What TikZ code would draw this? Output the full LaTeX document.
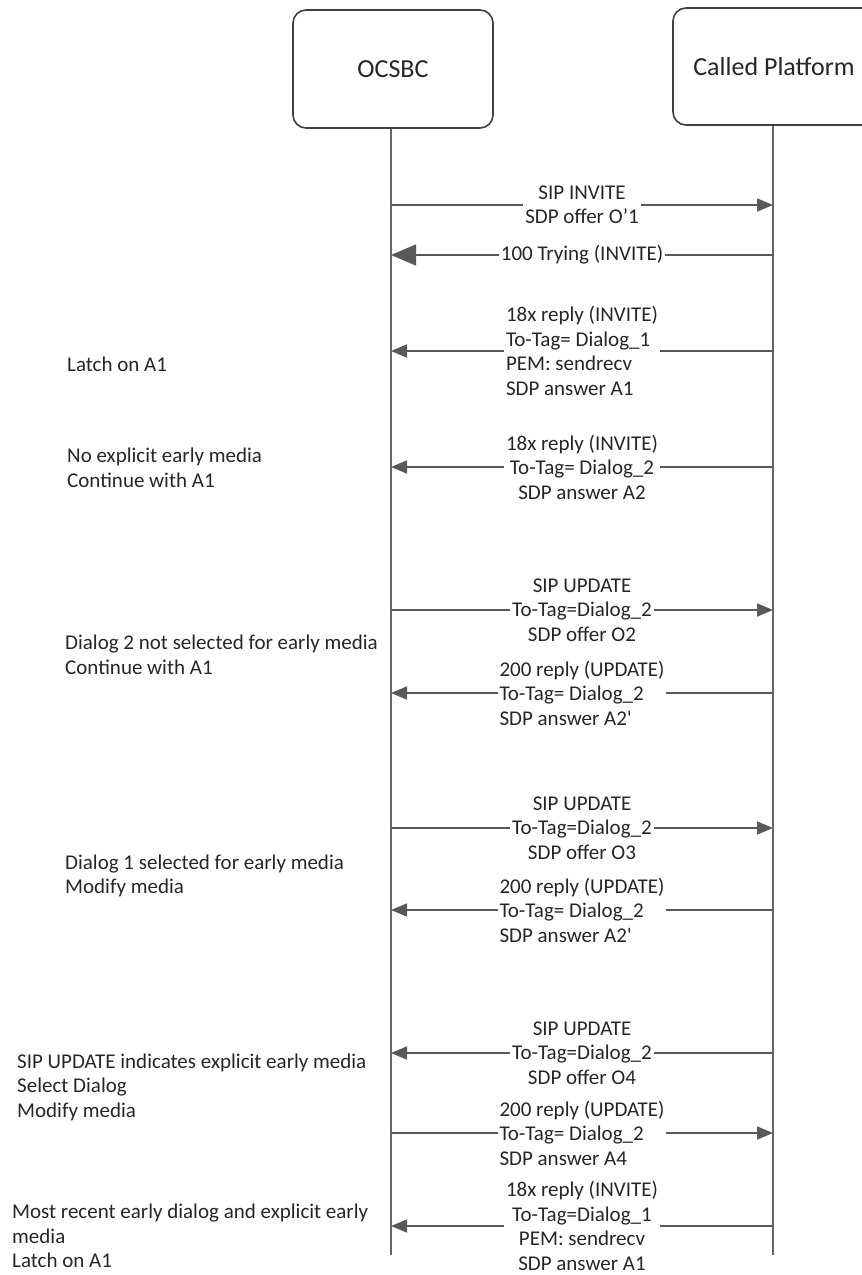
\documentclass[tikz,border=0pt]{standalone}
\usepackage{fontspec}
\setmainfont{Carlito}
\usetikzlibrary{arrows.meta}

\tikzset{
	party/.style={draw=black!75, line width=1.6pt, rounded corners=13pt, minimum width=200pt, minimum height=118pt, font=\fontsize{26}{30}\selectfont},
	lifeline/.style={draw=black!60, line width=1.6pt},
	msg/.style={draw=black!65, line width=1.6pt, -{Triangle[length=16pt, width=13pt]}},
	bigmsg/.style={msg, -{Triangle[length=25pt, width=21pt]}},
	lbl/.style={fill=white, inner xsep=2pt, inner ysep=0pt, align=center},
	note/.style={anchor=west, align=left, inner sep=0pt},
}

\begin{document}
\begin{tikzpicture}[x=1pt, y=-1pt, every node/.style={font=\fontsize{21}{24.5}\selectfont, text=black!85}]
	\useasboundingbox (0,0) rectangle (862,1275);
	\clip (0,0) rectangle (862,1275);
	\node[party] (ocsbc) at (393,69) {OCSBC};
	\node[party, minimum width=202pt, minimum height=117pt] (called) at (774,66.5) {Called Platform};
	\coordinate (oend) at (391,1255);
	\coordinate (cend) at (773,1255);
	\draw[lifeline] (ocsbc.south -| oend) -- (oend);
	\draw[lifeline] (called.south -| cend) -- (cend);
	\foreach \i/\y in {1/205,2/255,3/351,4/467,5/610,6/693,7/828,8/910,9/1053,10/1133,11/1226}{
		\coordinate (o\i) at (391,\y);
		\coordinate (c\i) at (773,\y);
	}
	\draw[msg] (o1) -- (c1) node[lbl, midway] (m1) {SIP INVITE\\SDP offer O'1};
	\draw[bigmsg] (c2) -- (o2) node[lbl, midway] (m2) {100 Trying (INVITE)};
	\draw[msg] (c3) -- (o3) node[lbl, midway, align=left] (m3) {18x reply (INVITE)\\To-Tag= Dialog\_1\\PEM: sendrecv\\SDP answer A1};
	\draw[msg] (c4) -- (o4) node[lbl, midway] (m4) {18x reply (INVITE)\\To-Tag= Dialog\_2\\SDP answer A2};
	\draw[msg] (o5) -- (c5) node[lbl, midway] (m5) {SIP UPDATE\\To-Tag=Dialog\_2\\SDP offer O2};
	\draw[msg] (c6) -- (o6) node[lbl, midway, align=left] (m6) {200 reply (UPDATE)\\To-Tag= Dialog\_2\\SDP answer A2\textquotesingle};
	\draw[msg] (o7) -- (c7) node[lbl, midway] (m7) {SIP UPDATE\\To-Tag=Dialog\_2\\SDP offer O3};
	\draw[msg] (c8) -- (o8) node[lbl, midway, align=left] (m8) {200 reply (UPDATE)\\To-Tag= Dialog\_2\\SDP answer A2\textquotesingle};
	\draw[msg] (c9) -- (o9) node[lbl, midway] (m9) {SIP UPDATE\\To-Tag=Dialog\_2\\SDP offer O4};
	\draw[msg] (o10) -- (c10) node[lbl, midway, align=left] (m10) {200 reply (UPDATE)\\To-Tag= Dialog\_2\\SDP answer A4};
	\draw[msg] (c11) -- (o11) node[lbl, midway] (m11) {18x reply (INVITE)\\To-Tag=Dialog\_1\\PEM: sendrecv\\SDP answer A1};
	\node[note] (n1) at (67,364) {Latch on A1};
	\node[note] (n2) at (67,468) {No explicit early media\\Continue with A1};
	\node[note] (n3) at (65,655) {Dialog 2 not selected for early media\\Continue with A1};
	\node[note] (n4) at (65,876) {Dialog 1 selected for early media\\Modify media};
	\node[note] (n5) at (17,1087) {SIP UPDATE indicates explicit early media\\Select Dialog\\Modify media};
	\node[note] (n6) at (12,1236) {Most recent early dialog and explicit early\\media\\Latch on A1};
\end{tikzpicture}
\end{document}
